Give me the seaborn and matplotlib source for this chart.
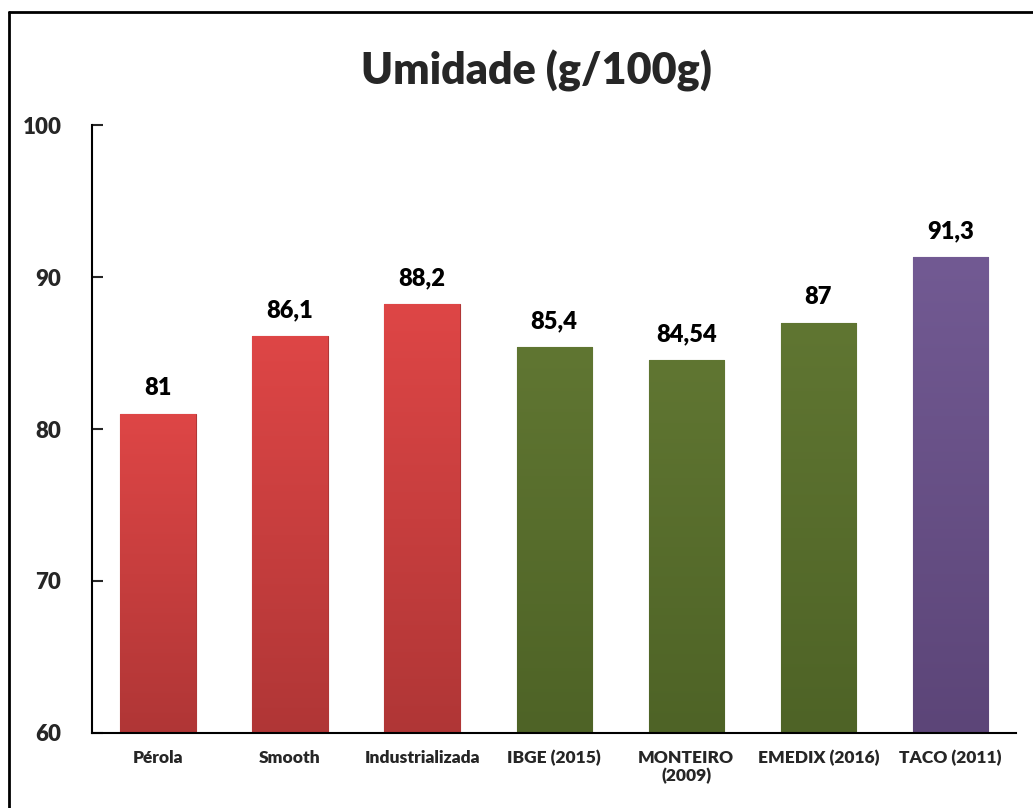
import matplotlib
matplotlib.use("Agg")
import matplotlib.pyplot as plt
import matplotlib.colors as mcolors
from matplotlib.lines import Line2D
import numpy as np
import pandas as pd
import seaborn as sns

# data
categories = ["Pérola", "Smooth", "Industrializada", "IBGE (2015)",
              "MONTEIRO\n(2009)", "EMEDIX (2016)", "TACO (2011)"]
values = [81, 86.1, 88.2, 85.4, 84.54, 87, 91.3]
groups = ["amostra", "amostra", "amostra", "lit", "lit", "lit", "taco"]
yticks = [60, 70, 80, 90, 100]

group_colors = {"amostra": ("#DE4646", "#B03636"),
                "lit": ("#607632", "#4E6326"),
                "taco": ("#725A93", "#5C4578")}

df = pd.DataFrame({"cat": categories, "val": values, "grp": groups})

sns.set_style("white")
plt.rcParams["font.family"] = ["Lato", "DejaVu Sans"]
W = "heavy"

fig = plt.figure(figsize=(10.33, 8.08), dpi=100)
ax = fig.add_axes([0.089, 0.093, 0.895, 0.752])

palette = [group_colors[g][0] for g in groups]
sns.barplot(data=df, x="cat", y="val", hue="cat", palette=palette,
            legend=False, width=0.57, saturation=1, ax=ax)

ax.set_ylim(60, 100)
ax.set_xlim(-0.5, len(categories) - 0.5)

# gradient fill clipped to each bar
for patch, g in zip(ax.patches, groups):
    top, bot = group_colors[g]
    cmap = mcolors.LinearSegmentedColormap.from_list("b", [bot, top])
    x0, w = patch.get_x(), patch.get_width()
    h = patch.get_height()
    grad = np.linspace(0, 1, 256).reshape(-1, 1)
    im = ax.imshow(grad, cmap=cmap, aspect="auto", origin="lower",
                   extent=[x0, x0 + w, 60, h], zorder=patch.get_zorder() + 0.1)
    im.set_clip_path(patch)
    patch.set_edgecolor(bot)
    patch.set_linewidth(0.8)

for i, v in enumerate(values):
    ax.text(i, v + 1.7, f"{v:g}".replace(".", ","), ha="center", va="center",
            fontsize=17, fontweight=W, color="black")

ax.set_yticks(yticks)
ax.set_yticklabels([str(t) for t in yticks], fontsize=16, fontweight=W)
ax.set_xticks(range(len(categories)))
ax.set_xticklabels(categories, fontsize=12.5, fontweight=W)
ax.tick_params(axis="y", direction="in", length=8, width=1.5, left=True, pad=22)
ax.tick_params(axis="x", length=0, pad=12)
ax.set_xlabel("")
ax.set_ylabel("")

sns.despine(ax=ax, top=True, right=True)
ax.spines["left"].set_linewidth(1.5)
ax.spines["bottom"].set_linewidth(1.5)
ax.spines["left"].set_color("black")
ax.spines["bottom"].set_color("black")

fig.text(0.519, 0.912, "Umidade (g/100g)", ha="center", va="center",
         fontsize=31, fontweight=W)

# outer chart border (runs off the right and bottom edges)
fig.add_artist(Line2D([9 / 1033, 1.0], [1 - 12 / 808, 1 - 12 / 808],
                      transform=fig.transFigure, color="black", lw=2))
fig.add_artist(Line2D([9 / 1033, 9 / 1033], [0.0, 1 - 12 / 808],
                      transform=fig.transFigure, color="black", lw=2))

fig.savefig("out.png", dpi=100)
